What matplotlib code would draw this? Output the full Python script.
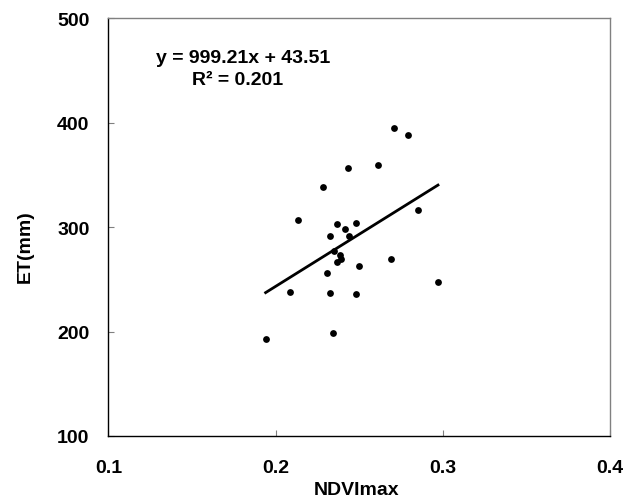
import matplotlib
matplotlib.use("Agg")
import matplotlib.pyplot as plt
import numpy as np

plt.rcParams['font.family'] = ['Liberation Sans', 'DejaVu Sans']
plt.rcParams['font.weight'] = 'bold'

# NDVImax vs ET (mm)
ndvi = [0.194, 0.2085, 0.2133, 0.2286, 0.2325, 0.2308, 0.2325, 0.2342,
        0.2366, 0.2413, 0.2434, 0.2439, 0.2483, 0.2498, 0.2483, 0.2614,
        0.2692, 0.2706, 0.2794, 0.2849, 0.2971, 0.2352, 0.2382, 0.2390,
        0.2367]
et = [193.1, 238.4, 307.0, 339.0, 292.0, 256.3, 237.2, 198.9,
      303.2, 298.7, 356.5, 291.4, 303.8, 263.0, 236.2, 360.0,
      269.7, 395.4, 388.4, 316.9, 247.1, 277.0, 273.5, 269.5,
      266.5]

slope = 999.21
intercept = 43.51
r2 = 0.201

xticks = [0.1, 0.2, 0.3, 0.4]
yticks = [100, 200, 300, 400, 500]

fig = plt.figure(figsize=(6.37, 5.02), dpi=100)
ax = fig.add_axes([0.1703, 0.1295, 0.7873, 0.8317])

ax.scatter(ndvi, et, s=24, color='black', zorder=3, linewidths=0)

xl = np.array([min(ndvi), max(ndvi)])
ax.plot(xl, slope * xl + intercept, color='black', lw=2.0, zorder=2)

ax.set_xlim(0.1, 0.4)
ax.set_ylim(100, 500)
ax.set_xticks(xticks)
ax.set_yticks(yticks)
ax.set_xticklabels([f"{t:.1f}" for t in xticks])
ax.set_yticklabels([str(t) for t in yticks])

ax.tick_params(axis='x', direction='in', length=4, color='#808080',
               labelsize=14, pad=16.5)
ax.tick_params(axis='y', direction='in', length=4, color='#808080',
               labelsize=14, pad=13.7)

for side in ['top', 'right']:
    ax.spines[side].set_color('#808080')
for side in ['left', 'bottom']:
    ax.spines[side].set_color('black')
for sp in ax.spines.values():
    sp.set_linewidth(1.0)

ax.set_xlabel('NDVImax', fontsize=14, fontweight='bold')
ax.xaxis.label.set_va('center')
ax.xaxis.set_label_coords(0.495, -0.127)
ax.set_ylabel('ET(mm)', fontsize=14, fontweight='bold')
ax.yaxis.label.set_va('center')
ax.yaxis.set_label_coords(-0.1665, 0.455)

ax.text(0.268, 0.895, f"y = {slope}x + {intercept}", transform=ax.transAxes,
        ha='center', va='baseline', fontsize=14, fontweight='bold')
ax.text(0.258, 0.843, f"R² = {r2}", transform=ax.transAxes,
        ha='center', va='baseline', fontsize=14, fontweight='bold')

fig.savefig('out.png', dpi=100)
